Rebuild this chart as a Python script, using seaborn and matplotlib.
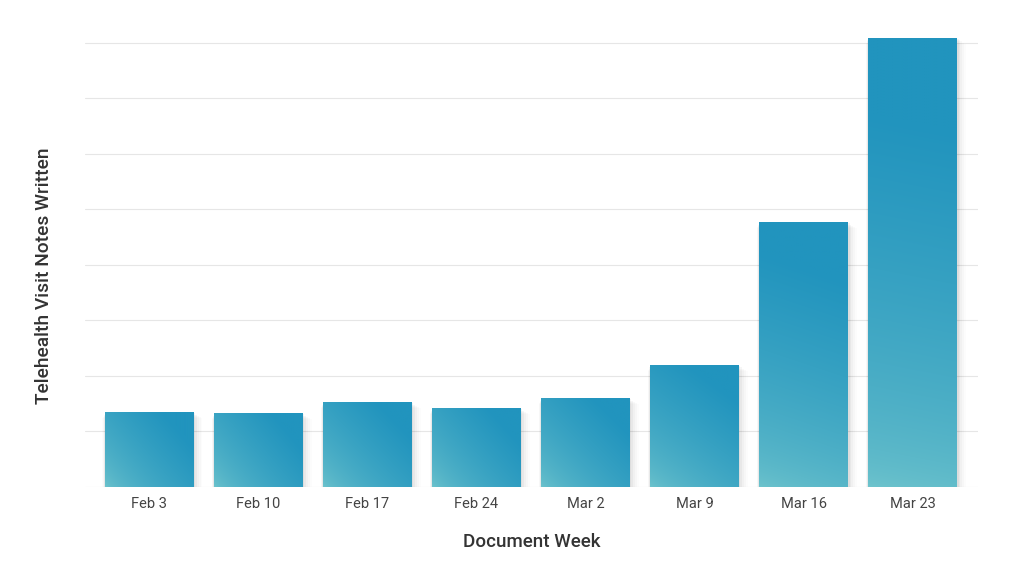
import numpy as np
import pandas as pd
import matplotlib
matplotlib.use("Agg")
import matplotlib.pyplot as plt
import seaborn as sns
from matplotlib.colors import to_rgb
from matplotlib.patches import Rectangle

weeks = ["Feb 3", "Feb 10", "Feb 17", "Feb 24", "Mar 2", "Mar 9", "Mar 16", "Mar 23"]
notes = [135, 133, 153, 142, 160, 220, 477, 809]
grid_ticks = [0, 100, 200, 300, 400, 500, 600, 700, 800]

sns.set_theme(style="white")
plt.rcParams["font.family"] = ["Roboto", "DejaVu Sans"]

fig = plt.figure(figsize=(10.24, 5.76), dpi=100)
ax = fig.add_axes([85 / 1024, 89 / 576, 893 / 1024, 450 / 576])

df = pd.DataFrame({"week": weeks, "notes": notes})
sns.barplot(data=df, x="week", y="notes", ax=ax, width=0.81, color="#2294BE",
            saturation=1, zorder=3)

ax.set_ylim(0, 810)
ax.set_xlim(-0.59, 7.6)
ax.set_yticks(grid_ticks)
ax.set_yticklabels([])
ax.grid(axis="y", color="#e6e6e6", linewidth=0.8, zorder=0)
ax.grid(axis="x", visible=False)
for s in ax.spines.values():
    s.set_visible(False)
ax.tick_params(axis="both", length=0)
ax.tick_params(axis="x", pad=7, labelsize=10.5, labelcolor="#444444")

ax.set_xlabel("Document Week", fontsize=13.5, color="#333333", labelpad=16,
              fontweight="medium")
ax.set_ylabel("Telehealth Visit Notes Written", fontsize=13.8, color="#333333",
              labelpad=0, fontweight="medium")
ax.yaxis.set_label_coords(-32 / 893, 0.47)

light = np.array(to_rgb("#70C5CD"))
dark = np.array(to_rgb("#2194BE"))

px_per_x = (893 / 8.19)
px_per_y = 450 / 810

for p in list(ax.patches):
    x0, y0 = p.get_x(), p.get_y()
    w, h = p.get_width(), p.get_height()
    wp, hp = w * px_per_x, h * px_per_y
    # soft shadow
    for i, a in enumerate([0.045, 0.035, 0.025, 0.018, 0.012]):
        off = (i + 1) * 1.8
        sh = Rectangle((x0 - off * 0.3 / px_per_x, y0 - off / px_per_y),
                       w + off * 1.3 / px_per_x, h + off * 0.3 / px_per_y,
                       facecolor="black", alpha=a, edgecolor="none", zorder=2)
        ax.add_patch(sh)
    ny, nx = 300, 80
    xs = np.linspace(0, 1, nx)
    ys = np.linspace(1, 0, ny)
    X, Y = np.meshgrid(xs, ys)
    dx, dy = wp, hp
    L2 = dx * dx + dy * dy
    t = (X * wp * dx + Y * hp * dy) / L2
    t = np.clip(t / 0.8, 0, 1) ** 0.58
    img = light[None, None, :] * (1 - t[..., None]) + dark[None, None, :] * t[..., None]
    im = ax.imshow(img, extent=(x0, x0 + w, y0, y0 + h), aspect="auto",
                   origin="upper", zorder=3.5, interpolation="bilinear")
    im.set_clip_path(p)
    p.set_facecolor("none")
    p.set_edgecolor("none")

ax.set_xlim(-0.59, 7.6)
ax.set_ylim(0, 810)

fig.savefig("out.png", dpi=100, facecolor="white")
